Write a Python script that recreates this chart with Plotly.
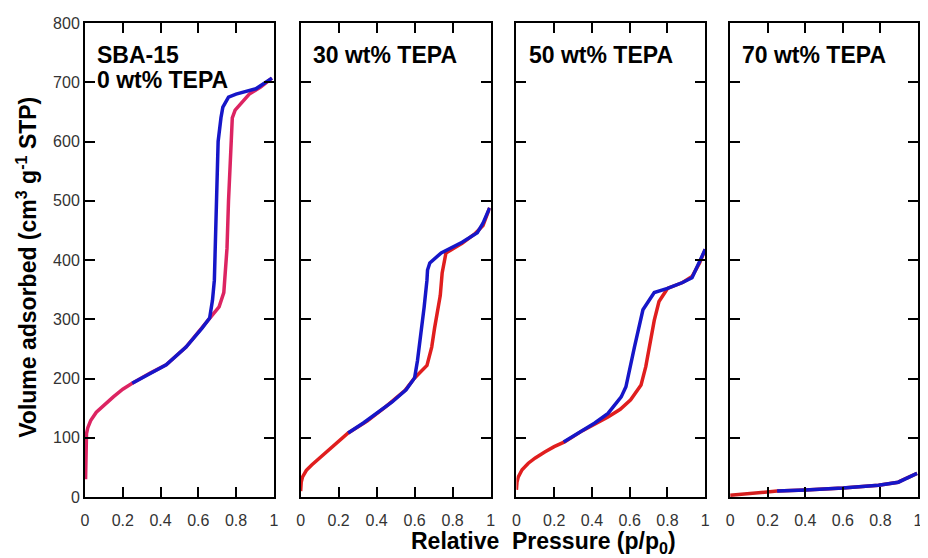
import plotly.graph_objects as go
from plotly.subplots import make_subplots

# relative pressure ticks
x_ticks = [0, 0.2, 0.4, 0.6, 0.8, 1]
x_tick_text = ["0", "0.2", "0.4", "0.6", "0.8", "1"]
y_ticks = [0, 100, 200, 300, 400, 500, 600, 700, 800]

panel_labels = [["SBA-15", "0 wt% TEPA"], ["30 wt% TEPA"], ["50 wt% TEPA"], ["70 wt% TEPA"]]

# SBA-15, 0 wt% TEPA
ads0_x = [0.003, 0.004, 0.005, 0.008, 0.015, 0.03, 0.06, 0.1, 0.15, 0.2, 0.25, 0.35, 0.43, 0.535,
          0.62, 0.66, 0.71, 0.735, 0.745, 0.752, 0.76, 0.772, 0.78, 0.795, 0.87, 0.93, 0.99]
ads0_y = [30, 60, 95, 107, 117, 129, 143, 155, 169, 182, 192, 210, 223, 253,
          285, 302, 321, 345, 380, 420, 500, 600, 640, 653, 680, 692, 707]
des0_x = [0.99, 0.905, 0.8, 0.76, 0.73, 0.72, 0.705, 0.698, 0.69, 0.685, 0.675, 0.66, 0.62,
          0.535, 0.43, 0.33, 0.25]
des0_y = [707, 689, 680, 675, 658, 640, 600, 500, 400, 366, 332, 302, 285,
          253, 223, 205, 192]

# 30 wt% TEPA
ads30_x = [0.0, 0.003, 0.01, 0.03, 0.058, 0.1, 0.15, 0.2, 0.25, 0.35, 0.45, 0.55, 0.6, 0.665,
           0.69, 0.705, 0.72, 0.735, 0.745, 0.765, 0.85, 0.92, 0.96, 0.995]
ads30_y = [10, 25, 34, 45, 54, 66, 79, 93, 108, 128, 153, 180, 201, 222,
           253, 285, 310, 340, 378, 412, 428, 445, 458, 488]
des30_x = [0.995, 0.96, 0.93, 0.85, 0.74, 0.68, 0.668, 0.665, 0.65, 0.633, 0.615, 0.6,
           0.555, 0.48, 0.41, 0.33, 0.25]
des30_y = [488, 462, 446, 430, 412, 395, 383, 366, 320, 270, 230, 201,
           181, 160, 143, 125, 108]

# 50 wt% TEPA
ads50_x = [0.0, 0.003, 0.01, 0.03, 0.063, 0.1, 0.15, 0.2, 0.255, 0.35, 0.485, 0.55, 0.605,
           0.66, 0.685, 0.705, 0.73, 0.755, 0.785, 0.8, 0.88, 0.93, 0.97, 1.0]
ads50_y = [12, 25, 34, 46, 57, 66, 76, 85, 93, 112, 135, 148, 164,
           189, 220, 253, 298, 330, 346, 352, 362, 372, 395, 418]
des50_x = [1.0, 0.97, 0.93, 0.88, 0.8, 0.73, 0.67, 0.625, 0.58, 0.555, 0.485, 0.415, 0.33, 0.25]
des50_y = [418, 398, 370, 362, 352, 345, 316, 253, 186, 169, 141, 125, 108, 93]

# 70 wt% TEPA
ads70_x = [0.0, 0.1, 0.25, 0.4, 0.6, 0.79, 0.895, 0.94, 0.995]
ads70_y = [3, 6, 10, 12, 15, 20, 25, 32, 40]
des70_x = [0.995, 0.94, 0.895, 0.79, 0.6, 0.4, 0.25]
des70_y = [40, 32, 25, 20, 15, 12, 10]

panels = [
    (ads0_x, ads0_y, des0_x, des0_y, "#dc2462"),
    (ads30_x, ads30_y, des30_x, des30_y, "#e01e1e"),
    (ads50_x, ads50_y, des50_x, des50_y, "#e01e1e"),
    (ads70_x, ads70_y, des70_x, des70_y, "#d41e1e"),
]
domains = [[0.0, 0.2267], [0.2589, 0.4869], [0.5179, 0.7446], [0.7745, 1.0]]
BLUE = "#1616c8"
FONT = "Arial, Liberation Sans, sans-serif"

fig = make_subplots(rows=1, cols=4)

for i, (ax, ay, dx, dy, red) in enumerate(panels):
    col = i + 1
    fig.add_trace(
        go.Scatter(x=ax, y=ay, mode="lines", line={"color": red, "width": 3.5}, showlegend=False),
        row=1, col=col,
    )
    fig.add_trace(
        go.Scatter(x=dx, y=dy, mode="lines", line={"color": BLUE, "width": 3.5}, showlegend=False),
        row=1, col=col,
    )
    fig.update_xaxes(
        domain=domains[i], range=[0, 1], tickvals=x_ticks, ticktext=x_tick_text,
        ticks="inside", ticklen=10, tickwidth=2, tickcolor="black",
        showline=True, linecolor="black", linewidth=2, mirror="allticks",
        showgrid=False, zeroline=False, ticklabelstandoff=8,
        tickfont={"size": 16, "color": "#333", "family": FONT},
        row=1, col=col,
    )
    fig.update_yaxes(
        range=[0, 800], tickvals=y_ticks, showticklabels=(i == 0),
        ticks="inside", ticklen=10, tickwidth=2, tickcolor="black",
        showline=True, linecolor="black", linewidth=2, mirror="allticks",
        showgrid=False, zeroline=False,
        tickfont={"size": 16, "color": "#333", "family": FONT},
        row=1, col=col,
    )
    xref = "x domain" if i == 0 else f"x{col} domain"
    yref = "y domain" if i == 0 else f"y{col} domain"
    for j, line in enumerate(panel_labels[i]):
        fig.add_annotation(
            text=f"<b>{line}</b>", xref=xref, yref=yref, x=0.055, y=0.933 - j * 0.054,
            xanchor="left", yanchor="middle", showarrow=False,
            font={"size": 23, "color": "black", "family": FONT},
        )

fig.add_annotation(
    text="<b>Volume adsorbed (cm<sup>3</sup> g<sup>-1</sup> STP)</b>",
    xref="paper", yref="paper", x=-0.07, y=0.485, textangle=-90,
    xanchor="center", yanchor="middle", showarrow=False,
    font={"size": 23, "color": "black", "family": FONT},
)
fig.add_annotation(
    text="<b>Relative  Pressure (p/p<sub>0</sub>)</b>",
    xref="paper", yref="paper", x=0.551, y=-0.097,
    xanchor="center", yanchor="middle", showarrow=False,
    font={"size": 23, "color": "black", "family": FONT},
)

# page body adds an 8px offset, so the figure is drawn 8px smaller on each axis
fig.update_layout(
    width=920, height=550,
    margin={"l": 77, "r": 5, "t": 15, "b": 61},
    plot_bgcolor="white", paper_bgcolor="white",
    font={"family": FONT},
)

fig.write_html("out.html")
